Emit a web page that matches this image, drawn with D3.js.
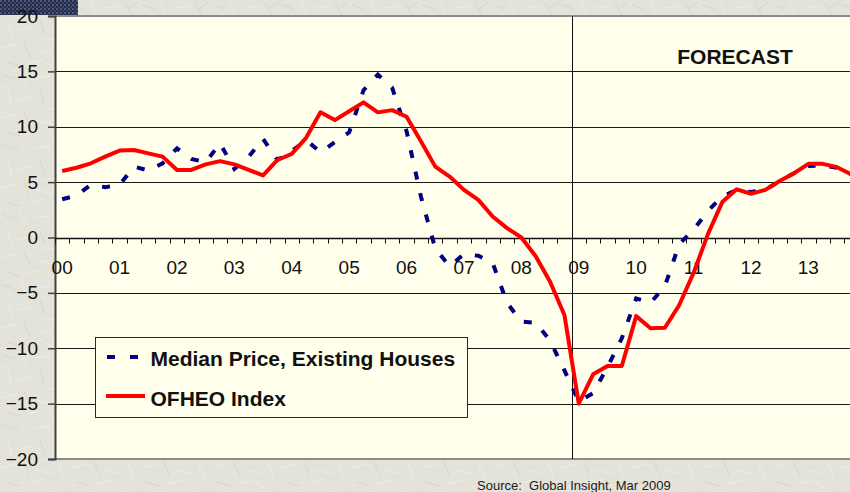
<!DOCTYPE html>
<html><head><meta charset="utf-8">
<script src="https://cdn.jsdelivr.net/npm/d3@7"></script>
<style>html,body{margin:0;padding:0;background:#e4e4da;overflow:hidden} svg{display:block;font-family:Arial,"Liberation Sans",sans-serif;}</style>
</head><body><svg id="chart" width="850" height="492"></svg>
<script>
// ---- data ----
const yearLabels = ["00","01","02","03","04","05","06","07","08","09","10","11","12","13"];
const quarterNames = ["Q1","Q2","Q3","Q4"];
const categories = yearLabels.flatMap(y => quarterNames.map(q => y + q));
const medianPrice = [
  3.45, 3.8, 4.75, 4.55,   4.75, 6.4, 6.05, 6.7,
  8.05, 7.1, 6.8, 8.5,     6.2, 7.3, 8.9, 7.0,
  7.8, 8.8, 7.7, 8.6,      9.5, 13.3, 14.7, 13.5,
  9.6, 3.7, -1.0, -2.6,    -1.5, -1.65, -2.3, -5.9,
  -7.6, -7.7, -9.3, -12.0, -14.8, -14.05, -11.7, -9.1,
  -5.5, -5.9, -4.4, -0.6,  0.7, 2.4, 3.7, 4.3,
  4.1, 4.3, 5.1, 5.8,      6.45, 6.5, 6.3, 5.7
];
const ofheoIndex = [
  6.0, 6.3, 6.7, 7.3,      7.85, 7.9, 7.6, 7.3,
  6.1, 6.1, 6.6, 6.9,      6.6, 6.1, 5.6, 7.0,
  7.55, 9.0, 11.3, 10.6,   11.4, 12.2, 11.3, 11.5,
  10.9, 8.7, 6.4, 5.5,     4.3, 3.4, 1.9, 0.85,
  0.0, -1.7, -4.0, -7.0,   -15.0, -12.35, -11.6, -11.6,
  -7.1, -8.2, -8.15, -6.1, -3.2, 0.3, 3.2, 4.35,
  3.95, 4.3, 5.1, 5.8,     6.65, 6.65, 6.35, 5.7
];
const yTicks = [-20, -15, -10, -5, 0, 5, 10, 15, 20];
const forecastStart = "09Q1";
const seriesNames = ["Median Price, Existing Houses", "OFHEO Index"];
const forecastLabel = "FORECAST";
const sourceNote = "Source:  Global Insight, Mar 2009";

// ---- layout ----
const svg = d3.select("#chart");
const pLeft = 55, pTop = 16, pBottom = 459, catW = 14.35;
const pRight = pLeft + categories.length * catW;
const x = d3.scaleBand().domain(categories).range([pLeft, pRight]).padding(0);
const y = d3.scaleLinear().domain([-20, 20]).range([pBottom, pTop]);
const bw = x.bandwidth();

const defs = svg.append("defs");
// textured background
const tex = defs.append("pattern").attr("id","tex").attr("patternUnits","userSpaceOnUse").attr("width",70).attr("height",70);
tex.append("rect").attr("width",70).attr("height",70).attr("fill","#e3e3d9");
const scratches = [[3,5,14,9],[20,2,26,14],[35,8,50,6],[55,3,62,15],[8,22,12,36],[18,30,33,26],[40,20,44,33],[52,28,66,34],[2,48,16,44],[24,42,30,56],[36,50,52,54],[58,44,64,58],[6,62,20,66],[28,64,42,60],[46,62,54,68],[60,8,68,2],[12,14,4,18],[44,40,58,38]];
tex.selectAll("line.s").data(scratches).join("line")
  .attr("x1",d=>d[0]).attr("y1",d=>d[1]).attr("x2",d=>d[2]).attr("y2",d=>d[3])
  .attr("stroke",(d,i)=> i%3===0 ? "#d6d6cc" : "#eeeee7").attr("stroke-width",1).attr("stroke-linecap","round");
// dark checker for top-left patch
const chk = defs.append("pattern").attr("id","chk").attr("patternUnits","userSpaceOnUse").attr("width",4).attr("height",4);
chk.append("rect").attr("width",4).attr("height",4).attr("fill","#262c46");
chk.append("rect").attr("width",2).attr("height",2).attr("fill","#4d5680");
chk.append("rect").attr("x",2).attr("y",2).attr("width",2).attr("height",2).attr("fill","#3a4166");

svg.append("rect").attr("width",850).attr("height",492).attr("fill","url(#tex)");
svg.append("rect").attr("x",0).attr("y",0).attr("width",78).attr("height",15).attr("fill","url(#chk)");

// plot area
svg.append("rect").attr("x",pLeft).attr("y",pTop).attr("width",pRight-pLeft).attr("height",pBottom-pTop).attr("fill","#ffffec");

// gridlines
svg.append("g").selectAll("line").data(yTicks.filter(v => v !== 0 && Math.abs(v) !== 20)).join("line")
  .attr("x1",pLeft).attr("x2",pRight).attr("y1",d=>Math.round(y(d))+0.5).attr("y2",d=>Math.round(y(d))+0.5)
  .attr("stroke","#1a1a1a").attr("stroke-width",1);

// top & bottom borders
svg.append("line").attr("x1",pLeft).attr("x2",850).attr("y1",pTop).attr("y2",pTop).attr("stroke","#8c8c8c").attr("stroke-width",2);
svg.append("line").attr("x1",pLeft).attr("x2",850).attr("y1",pBottom).attr("y2",pBottom).attr("stroke","#8c8c8c").attr("stroke-width",2);

// forecast divider
const fx = Math.round(x(forecastStart)) + 0.5;
svg.append("line").attr("x1",fx).attr("x2",fx).attr("y1",pTop).attr("y2",pBottom).attr("stroke","#111").attr("stroke-width",1);

// y axis
const yAxis = svg.append("g").attr("transform",`translate(${pLeft},0)`)
  .call(d3.axisLeft(y).tickValues(yTicks).tickSize(7).tickPadding(10).tickFormat(d3.format("d")));
yAxis.select(".domain").attr("stroke","#404040").attr("stroke-width",2);
yAxis.selectAll(".tick line").attr("stroke","#404040").attr("stroke-width",1.5);
yAxis.selectAll(".tick text").attr("font-size",19).attr("fill","#111").attr("font-family","Arial, 'Liberation Sans', sans-serif");

// x axis on zero line
const y0 = Math.round(y(0)) + 0.5;
svg.append("line").attr("x1",pLeft).attr("x2",pRight).attr("y1",y0).attr("y2",y0).attr("stroke","#111").attr("stroke-width",1.5);
svg.append("g").selectAll("line").data(categories).join("line")
  .attr("x1",d=>Math.round(x(d))+0.5).attr("x2",d=>Math.round(x(d))+0.5)
  .attr("y1",y0).attr("y2",y0+5).attr("stroke","#111").attr("stroke-width",1);
svg.append("g").selectAll("text").data(categories.filter(c => c.endsWith("Q1"))).join("text")
  .attr("x",d=>x(d)+bw/2).attr("y",273.5).attr("text-anchor","middle")
  .attr("font-size",19).attr("fill","#111").text(d=>d.slice(0,2));

// series
const line = d3.line().x((d,i)=>x(categories[i])+bw/2).y(d=>y(d));
svg.append("path").datum(medianPrice).attr("d",line).attr("fill","none")
  .attr("stroke","#000080").attr("stroke-width",4).attr("stroke-dasharray","8,14");
svg.append("path").datum(ofheoIndex).attr("d",line).attr("fill","none")
  .attr("stroke","#ff0000").attr("stroke-width",4).attr("stroke-linejoin","round");

// legend
const lg = svg.append("g");
lg.append("rect").attr("x",95.5).attr("y",337.5).attr("width",372).attr("height",80)
  .attr("fill","#ffffec").attr("stroke","#2a2a2a").attr("stroke-width",1);
lg.append("line").attr("x1",107).attr("x2",146).attr("y1",357).attr("y2",357)
  .attr("stroke","#000080").attr("stroke-width",4).attr("stroke-dasharray","8,15");
lg.append("line").attr("x1",106).attr("x2",145).attr("y1",396).attr("y2",396)
  .attr("stroke","#ff0000").attr("stroke-width",4);
lg.append("text").attr("x",150.5).attr("y",366).attr("font-size",21).attr("font-weight","bold").attr("fill","#111").text(seriesNames[0]);
lg.append("text").attr("x",150.5).attr("y",406).attr("font-size",21).attr("font-weight","bold").attr("fill","#111").text(seriesNames[1]);

// forecast label
svg.append("text").attr("x",735).attr("y",64).attr("text-anchor","middle").attr("font-size",21)
  .attr("font-weight","bold").attr("fill","#111").text(forecastLabel);

// source
svg.append("text").attr("x",477).attr("y",490).attr("font-size",13).attr("fill","#1a1a1a")
  .style("white-space","pre").attr("xml:space","preserve").text(sourceNote);
</script></body></html>
